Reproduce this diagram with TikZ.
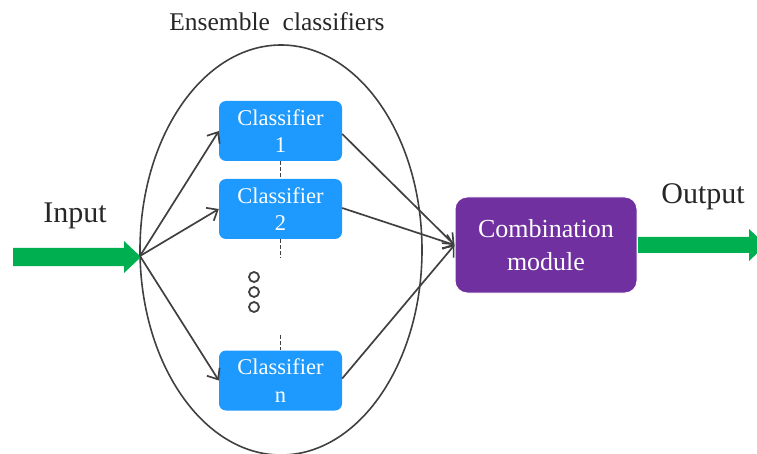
\documentclass[tikz,border=0pt]{standalone}
\usepackage{fontspec}
\setmainfont{Liberation Serif}
\newfontfamily\boxfont{Liberation Serif}
\usetikzlibrary{arrows.meta,shapes.arrows}
\definecolor{clsblue}{HTML}{1E9AFE}
\definecolor{combpurple}{HTML}{7030A0}
\definecolor{arrgreen}{HTML}{00B050}
\definecolor{linegray}{HTML}{404040}
\begin{document}
\begin{tikzpicture}[x=1pt,y=-1pt,
  clsbox/.style={draw=none,fill=clsblue,rounded corners=7pt,minimum width=123pt,minimum height=60pt,
    text=white,font=\boxfont\fontsize{22.5}{27.5}\selectfont,align=center,inner sep=0pt},
  combbox/.style={draw=white,line width=1pt,fill=combpurple,rounded corners=12pt,minimum width=182pt,minimum height=96pt,
    text=white,font=\boxfont\fontsize{26}{33}\selectfont,align=center,inner sep=0pt},
  conn/.style={draw=linegray,line width=1.7pt,-{Straight Barb[length=9pt,width=15pt,line width=1.7pt]}},
  dashline/.style={draw=linegray,line width=1.8pt,dash pattern=on 3.5pt off 2.5pt},
  lbl/.style={font=\fontsize{30}{34}\selectfont,text=black!85,inner sep=0pt},
  fatarrow/.style={fill=arrgreen,draw=none}
]
\useasboundingbox (0,0) rectangle (757,454);
\node[font=\fontsize{25.5}{30}\selectfont,text=black!85,inner sep=0pt] (title) at (277,22) {Ensemble\ \ classifiers};
\draw[draw=linegray,line width=1.6pt] (281,250) ellipse [x radius=141, y radius=205];
\coordinate (hub) at (140,256);
\node[clsbox] (c1) at (280.5,131) {Classifier\\1};
\node[clsbox] (c2) at (280.5,209) {Classifier\\2};
\node[clsbox] (cn) at (280.5,380.5) {Classifier\\n};
\node[combbox] (comb) at (546,245) {Combination\\module};
% dots
\node[circle,draw=linegray,line width=1.8pt,minimum size=10pt,inner sep=0pt] (d1) at (254,277) {};
\node[circle,draw=linegray,line width=1.8pt,minimum size=10pt,inner sep=0pt] (d2) at (254,292) {};
\node[circle,draw=linegray,line width=1.8pt,minimum size=10pt,inner sep=0pt] (d3) at (254,307) {};
% dashed
\coordinate (dA) at (280.5,258);
\coordinate (dB) at (280.5,335);
\draw[dashline] (c1.south) -- (c2.north);
\draw[dashline] (c2.south) -- (dA);
\draw[dashline] (dB) -- (cn.north);
% input arrow
\fill[fatarrow] (13,248) -- (124,248) -- (124,241) -- (141,257) -- (124,273) -- (124,266) -- (13,266) -- cycle;
\node[lbl] (inlbl) at (75,216) {Input};
% connectors
\draw[conn] (hub) -- (c1.west);
\draw[conn] (hub) -- (c2.west);
\draw[conn] (hub) -- (cn.west);
\coordinate (m) at (comb.west);
\draw[conn] ([yshift=-3pt]c1.east) -- (m);
\draw[conn] ([yshift=1pt]c2.east) -- (m);
\draw[conn] ([yshift=2pt]cn.east) -- (m);
% output arrow
\fill[fatarrow] (638,237) -- (749,237) -- (749,229) -- (766,245) -- (749,261) -- (749,253) -- (638,253) -- cycle;
\node[lbl] (outlbl) at (703,197) {Output};
\end{tikzpicture}
\end{document}
